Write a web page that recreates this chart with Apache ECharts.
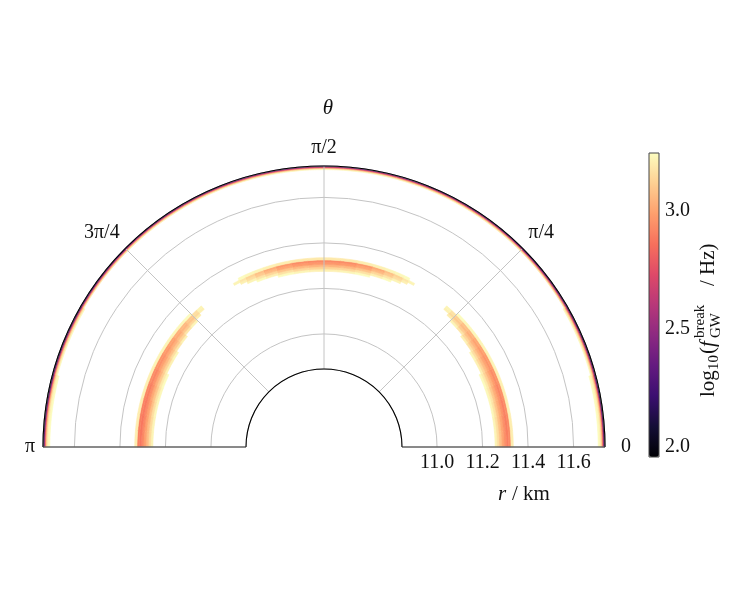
<!DOCTYPE html>
<html>
<head>
<meta charset="utf-8">
<script src="https://cdn.jsdelivr.net/npm/echarts@6/dist/echarts.min.js"></script>
<style>
  html, body { margin: 0; padding: 0; background: #fff; }
  #chart { width: 747px; height: 612px; }
</style>
</head>
<body>
<div id="chart"></div>
<script>
const FONT = "'Liberation Serif', 'DejaVu Serif', serif";

// axis limits and tick labels
const rMin = 10.846;
const rMax = 11.738;
const angleLabels = ['0', 'π/4', 'π/2', '3π/4', 'π'];
const colorMin = 1.958;
const colorMax = 3.246;
const colorTicks = [2.0, 2.5, 3.0];
const magma = ['#000004', '#140e36', '#3b0f70', '#641a80', '#8c2981', '#b73779',
  '#de4968', '#f7705c', '#fe9f6d', '#fecf92', '#fcfdbf'];

// thin rim along the outer edge: radial bin edges (km), angle bin edges (deg), log10 f
const rimEdges = [11.708, 11.716, 11.722, 11.727, 11.731, 11.735, 11.738];
const rimAngles = [0, 15, 30, 45, 60, 75, 90, 105, 120, 135, 150, 165, 180];
const rimValues = [
  [3.24, 3.20, 3.08, 2.85, 2.50, 2.10],
  [null, 3.23, 3.12, 2.90, 2.55, 2.15],
  [null, null, 3.18, 2.95, 2.60, 2.20],
  [null, null, 3.20, 3.00, 2.65, 2.25],
  [null, null, 3.21, 3.02, 2.70, 2.28],
  [null, null, 3.22, 3.04, 2.72, 2.30],
  [null, null, 3.22, 3.04, 2.72, 2.30],
  [null, null, 3.21, 3.02, 2.70, 2.28],
  [null, null, 3.20, 3.00, 2.65, 2.25],
  [null, null, 3.18, 2.95, 2.60, 2.20],
  [null, 3.23, 3.12, 2.90, 2.55, 2.15],
  [3.24, 3.20, 3.08, 2.85, 2.50, 2.10]
];

// the three crescents near r = 11.3 km
const bandEdges = [11.255, 11.265, 11.275, 11.285, 11.295, 11.305, 11.315, 11.325, 11.335];

const rightAngles = [0, 5, 10, 15, 20, 25, 30, 33, 36, 39, 42, 45, 47, 49];
const rightValues = [
  [3.22, 3.16, 3.08, 3.01, 2.95, 2.90, 2.93, 3.20],
  [3.22, 3.16, 3.08, 3.01, 2.95, 2.90, 2.93, 3.20],
  [3.23, 3.17, 3.09, 3.02, 2.96, 2.91, 2.94, 3.21],
  [3.23, 3.18, 3.10, 3.03, 2.97, 2.92, 2.95, 3.21],
  [3.24, 3.19, 3.12, 3.05, 2.99, 2.94, 2.96, 3.21],
  [null, 3.21, 3.14, 3.07, 3.01, 2.96, 2.98, 3.22],
  [null, 3.23, 3.16, 3.09, 3.03, 2.98, 3.00, 3.22],
  [null, null, 3.18, 3.11, 3.05, 3.00, 3.02, 3.22],
  [null, null, 3.21, 3.14, 3.08, 3.03, 3.05, 3.23],
  [null, null, null, 3.18, 3.11, 3.06, 3.08, 3.23],
  [null, null, null, 3.22, 3.15, 3.10, 3.12, 3.24],
  [null, null, null, null, 3.20, 3.15, 3.17, null],
  [null, null, null, null, null, 3.21, 3.22, null]
];

const topAngles = [61, 63, 65, 68, 71, 75, 80, 85, 90, 95, 100, 105, 109, 112, 115, 117, 119];
const topValues = [
  [null, null, null, null, null, null, 3.22, null],
  [null, null, null, null, null, 3.21, 3.18, 3.24],
  [null, null, null, null, 3.22, 3.16, 3.13, 3.23],
  [null, null, null, 3.24, 3.18, 3.11, 3.08, 3.22],
  [null, null, null, 3.21, 3.14, 3.06, 3.02, 3.21],
  [null, null, 3.24, 3.17, 3.09, 3.01, 2.97, 3.20],
  [null, null, 3.22, 3.14, 3.06, 2.98, 2.94, 3.19],
  [null, null, 3.21, 3.13, 3.05, 2.97, 2.93, 3.19],
  [null, null, 3.21, 3.13, 3.05, 2.97, 2.93, 3.19],
  [null, null, 3.22, 3.14, 3.06, 2.98, 2.94, 3.19],
  [null, null, 3.24, 3.17, 3.09, 3.01, 2.97, 3.20],
  [null, null, null, 3.21, 3.14, 3.06, 3.02, 3.21],
  [null, null, null, 3.24, 3.18, 3.11, 3.08, 3.22],
  [null, null, null, null, 3.22, 3.16, 3.13, 3.23],
  [null, null, null, null, null, 3.21, 3.18, 3.24],
  [null, null, null, null, null, null, 3.22, null]
];

const leftAngles = [131, 133, 135, 138, 141, 144, 147, 150, 155, 160, 165, 170, 175, 180];
const leftValues = [
  [null, null, null, null, null, 3.21, 3.22, null],
  [null, null, null, null, 3.20, 3.15, 3.16, null],
  [null, null, null, 3.22, 3.14, 3.09, 3.10, 3.24],
  [null, null, null, 3.18, 3.10, 3.05, 3.06, 3.23],
  [null, null, 3.21, 3.13, 3.07, 3.02, 3.03, 3.23],
  [null, null, 3.18, 3.10, 3.04, 2.99, 3.00, 3.22],
  [null, 3.23, 3.16, 3.08, 3.02, 2.97, 2.98, 3.22],
  [null, 3.21, 3.13, 3.06, 3.00, 2.95, 2.96, 3.22],
  [3.24, 3.19, 3.11, 3.04, 2.97, 2.92, 2.94, 3.21],
  [3.23, 3.17, 3.09, 3.02, 2.95, 2.90, 2.92, 3.21],
  [3.23, 3.16, 3.08, 3.00, 2.94, 2.89, 2.91, 3.20],
  [3.22, 3.15, 3.07, 3.00, 2.93, 2.88, 2.90, 3.20],
  [3.22, 3.15, 3.07, 3.00, 2.93, 2.88, 2.90, 3.20]
];

// grid of values -> [r0, r1, a0, a1, value] cells
function toCells(rEdges, aEdges, grid) {
  const out = [];
  grid.forEach((row, i) => {
    row.forEach((v, j) => {
      if (v == null) return;
      out.push([rEdges[j], rEdges[j + 1], aEdges[i], aEdges[i + 1], v]);
    });
  });
  return out;
}

const cells = [].concat(
  toCells(rimEdges, rimAngles, rimValues),
  toCells(bandEdges, rightAngles, rightValues),
  toCells(bandEdges, topAngles, topValues),
  toCells(bandEdges, leftAngles, leftValues)
);

function renderCell(params, api) {
  const r0 = api.value(0), r1 = api.value(1);
  const a0 = api.value(2), a1 = api.value(3);
  const n = Math.max(2, Math.ceil(Math.abs(a1 - a0)));
  const pts = [];
  for (let k = 0; k <= n; k++) pts.push(api.coord([r1, a0 + (a1 - a0) * k / n]));
  for (let k = n; k >= 0; k--) pts.push(api.coord([r0, a0 + (a1 - a0) * k / n]));
  const color = api.visual('color');
  return {
    type: 'polygon',
    shape: { points: pts },
    style: { fill: color, stroke: color, lineWidth: 0.6 }
  };
}

// outer/inner arcs and the two straight edges of the half annulus
function renderFrame(params) {
  const cs = params.coordSys;
  const arc = { stroke: '#000', lineWidth: 1.1, fill: null };
  const edge = { stroke: '#333', lineWidth: 1.1 };
  return {
    type: 'group',
    children: [
      { type: 'arc', shape: { cx: cs.cx, cy: cs.cy, r: cs.r, startAngle: Math.PI, endAngle: 2 * Math.PI, clockwise: true }, style: arc },
      { type: 'arc', shape: { cx: cs.cx, cy: cs.cy, r: cs.r0, startAngle: Math.PI, endAngle: 2 * Math.PI, clockwise: true }, style: arc },
      { type: 'line', shape: { x1: cs.cx - cs.r, y1: cs.cy, x2: cs.cx - cs.r0, y2: cs.cy }, style: edge },
      { type: 'line', shape: { x1: cs.cx + cs.r0, y1: cs.cy, x2: cs.cx + cs.r, y2: cs.cy }, style: edge }
    ]
  };
}

const chart = echarts.init(document.getElementById('chart'));

const txt = (text, x, y, size, italic) => ({
  type: 'text', x: x, y: y,
  style: {
    text: text, fill: '#111', fontFamily: FONT, fontSize: size,
    fontStyle: italic ? 'italic' : 'normal', verticalAlign: 'middle'
  }
});

const option = {
  animation: false,
  backgroundColor: '#fff',
  polar: { center: [324, 447], radius: [78, 281] },
  angleAxis: {
    type: 'value',
    min: 0,
    max: 180,
    interval: 45,
    startAngle: 0,
    endAngle: 180,
    clockwise: false,
    axisLine: { show: false },
    axisTick: { show: false },
    axisLabel: {
      margin: 8,
      color: '#111',
      fontFamily: FONT,
      fontSize: 20,
      formatter: v => (v === 0 ? '{z|0}' : angleLabels[Math.round(v / 45)]),
      rich: { z: { padding: [0, 0, 0, 8], fontFamily: FONT, fontSize: 20, color: '#111' } }
    },
    splitLine: { show: true, lineStyle: { color: '#c4c4c4', width: 1 } }
  },
  radiusAxis: {
    type: 'value',
    min: rMin,
    max: rMax,
    axisLine: { show: false },
    axisTick: { show: false },
    axisLabel: {
      margin: -26,
      showMinLabel: false,
      showMaxLabel: false,
      color: '#111',
      fontFamily: FONT,
      fontSize: 20,
      formatter: v => v.toFixed(1)
    },
    splitLine: { show: true, lineStyle: { color: '#c4c4c4', width: 1 } }
  },
  visualMap: {
    type: 'continuous',
    seriesIndex: 0,
    dimension: 4,
    min: colorMin,
    max: colorMax,
    calculable: false,
    hoverLink: false,
    padding: 0,
    itemWidth: 10,
    itemHeight: 304,
    left: 649,
    top: 153,
    inRange: { color: magma }
  },
  grid: {
    left: 649, top: 153, width: 10, height: 304,
    show: true, borderColor: '#444', borderWidth: 1, backgroundColor: 'transparent', z: 10
  },
  xAxis: { type: 'value', show: false },
  yAxis: {
    type: 'value',
    position: 'right',
    min: colorMin,
    max: colorMax,
    axisLine: { show: false },
    splitLine: { show: false },
    axisTick: { show: true, length: 4, customValues: colorTicks, lineStyle: { color: '#222' } },
    axisLabel: {
      customValues: colorTicks,
      margin: 6,
      color: '#111',
      fontFamily: FONT,
      fontSize: 20,
      formatter: v => v.toFixed(1)
    }
  },
  graphic: [
    { type: 'text', x: 328, y: 108, style: { text: 'θ', fontFamily: FONT, fontSize: 21, fontStyle: 'italic', fill: '#111', align: 'center', verticalAlign: 'middle' } },
    txt('r', 498, 494, 21, true),
    txt('/ km', 512, 494, 21, false),
    {
      type: 'group', x: 708, y: 308, rotation: Math.PI / 2,
      children: [
        txt('log', -89, 0, 21, false),
        txt('10', -62, 6, 15, false),
        txt('(', -46, 0, 21, false),
        txt('f', -39, 0, 21, true),
        txt('break', -30, -8, 15, false),
        txt('GW', -30, 8, 15, false),
        txt('/ Hz)', 22, 0, 21, false)
      ]
    }
  ],
  series: [
    {
      name: 'heat',
      type: 'custom',
      coordinateSystem: 'polar',
      encode: { radius: 0, angle: 2 },
      z: -1,
      renderItem: renderCell,
      data: cells
    },
    {
      name: 'frame',
      type: 'custom',
      coordinateSystem: 'polar',
      z: 5,
      silent: true,
      renderItem: renderFrame,
      data: [[rMin, 0]]
    }
  ]
};

chart.setOption(option);
</script>
</body>
</html>
